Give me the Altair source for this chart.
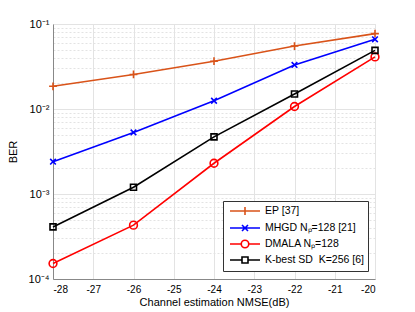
import altair as alt
import pandas as pd

nmse = [-28, -26, -24, -22, -20]
methods = ["EP [37]", "MHGD Nₚ=128 [21]", "DMALA Nₚ=128", "K-best SD\u00a0\u00a0K=256 [6]"]
ber_ep = [0.0185, 0.0255, 0.0365, 0.055, 0.077]
ber_mhgd = [0.0024, 0.0053, 0.0125, 0.033, 0.066]
ber_dmala = [0.000152, 0.00043, 0.0023, 0.0107, 0.041]
ber_kbest = [0.00041, 0.0012, 0.0047, 0.015, 0.049]
colors = ["#D95319", "#0000FF", "#FF0000", "#000000"]
marker_paths = [
    "M-1,0H1M0,-1V1",
    "M-0.8,-0.8L0.8,0.8M-0.8,0.8L0.8,-0.8",
    "circle",
    "square",
]
marker_sizes = [60, 50, 60, 36]
legend_paths = [
    "M-3,0H3M-0.8,0H0.8M0,-0.8V0.8",
    "M-3,0H3M-0.6,-0.6L0.6,0.6M-0.6,0.6L0.6,-0.6",
    "M-3,0H-0.75M0.75,0H3M-0.75,0A0.75,0.75,0,1,0,0.75,0A0.75,0.75,0,1,0,-0.75,0",
    "M-3,0H-0.6M0.6,0H3M-0.6,-0.6H0.6V0.6H-0.6Z",
]
x_ticks = [-28, -27, -26, -25, -24, -23, -22, -21, -20]
y_ticks = [m * 10.0 ** e for e in (-4, -3, -2) for m in range(1, 10)] + [0.1]

rows = []
for name, vals in zip(methods, [ber_ep, ber_mhgd, ber_dmala, ber_kbest]):
    for x, y in zip(nmse, vals):
        rows.append({"NMSE": x, "BER": y, "Method": name})
df = pd.DataFrame(rows)

font = "Liberation Sans"
xenc = alt.X("NMSE:Q", scale=alt.Scale(domain=[-28, -20], nice=False),
             axis=alt.Axis(values=x_ticks, title="Channel estimation NMSE(dB)",
                           labelExpr="'' + datum.value",
                           grid=True, gridColor="#e3e3e3", ticks=False, labelPadding=5,
                           titlePadding=2, titleFontWeight="normal"))
yenc = alt.Y("BER:Q", scale=alt.Scale(type="log", domain=[1e-4, 1e-1], nice=False),
             axis=alt.Axis(values=y_ticks, title="BER", ticks=False, grid=True,
                           gridColor="#e3e3e3", titleFontWeight="normal", labelFontSize=11,
                           gridDash={"condition": {"test": "abs(log(datum.value)/LN10 - round(log(datum.value)/LN10)) > 1e-6", "value": [2, 2]}, "value": []},
                           labelExpr="abs(log(datum.value)/LN10 - round(log(datum.value)/LN10)) < 1e-6 ? ['10⁻⁴','10⁻³','10⁻²','10⁻¹'][round(log(datum.value)/LN10)+4] : ''",
                           labelPadding=4, titlePadding=10))

color_scale = alt.Scale(domain=methods, range=colors)

leg = alt.Legend(title=None, orient="none", legendX=170, legendY=177,
                 strokeColor="#333", fillColor="white", padding=4,
                 labelFont=font, labelFontSize=10.5, labelColor="#000",
                 symbolSize=100, symbolStrokeWidth=1.6, symbolOpacity=1,
                 symbolOffset=12, labelOffset=14, rowPadding=2)

color_enc = alt.Color("Method:N", scale=color_scale, sort=methods, legend=leg)

lines = alt.Chart(df).mark_line(strokeWidth=1.6).encode(x=xenc, y=yenc, color=color_enc)

point_layers = []
for name, path, size in zip(methods, marker_paths, marker_sizes):
    point_layers.append(
        alt.Chart(df).transform_filter(alt.datum.Method == name)
        .mark_point(filled=False, strokeWidth=1.6, size=size, opacity=1, shape=path)
        .encode(x=xenc, y=yenc, color=color_enc)
    )

legend_layer = alt.Chart(df).mark_point(filled=False, strokeWidth=1.6, opacity=0).encode(
    x=xenc, y=yenc,
    color=color_enc,
    shape=alt.Shape("Method:N", scale=alt.Scale(domain=methods, range=legend_paths), sort=methods,
                    legend=leg),
)

chart = alt.layer(lines, *point_layers, legend_layer).properties(
    width=322, height=255,
    autosize=alt.AutoSizeParams(type="none"),
    padding={"left": 45, "top": 16, "right": 31, "bottom": 30},
).configure_axis(
    labelFont=font, labelFontSize=10, labelColor="#262626",
    titleFont=font, titleFontSize=11, titleColor="#262626", titleFontWeight="normal",
    domainColor="#444",
).configure_view(stroke="#444", strokeWidth=1).configure(background="white")

chart.save("out.html", embed_options={"renderer": "svg", "actions": False})
